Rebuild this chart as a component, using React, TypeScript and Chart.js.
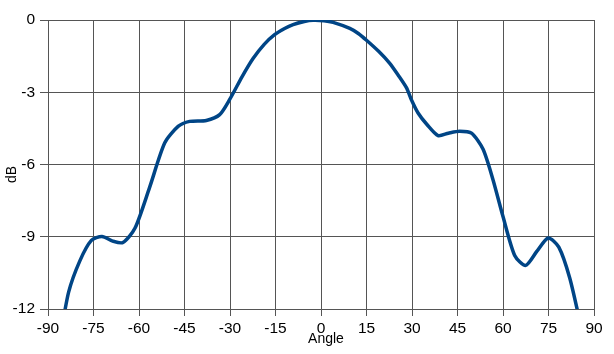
import React, { useEffect, useRef } from "react";
import { Chart, registerables } from "chart.js";

Chart.register(...registerables);

const angles = [
  -86, -83.2, -79.5, -75.7, -72.2, -68.7, -65.3, -61.3, -56.5, -51.5, -47.1, -43.3, -37.8, -33.4,
  -30.1, -26, -22.4, -18.8, -15.3, -12, -9.2, -5.5, -2.6, 1, 4, 9.5, 12.3, 15, 19, 22.6, 25.5, 28.2,
  29.8, 32, 35, 38.6, 42, 45.7, 49.6, 53.4, 56.7, 60, 63.9, 67.5, 71.2, 74.9, 78.4, 82, 85.5,
];
const dbValues = [
  -13.2, -11.3, -10.0, -9.15, -8.99, -9.18, -9.24, -8.64, -6.95, -5.1, -4.42, -4.21, -4.17, -3.93,
  -3.3, -2.35, -1.6, -1.02, -0.61, -0.35, -0.19, -0.06, -0.01, -0.03, -0.1, -0.35, -0.56, -0.84,
  -1.3, -1.79, -2.3, -2.82, -3.31, -3.86, -4.35, -4.8, -4.7, -4.62, -4.7, -5.36, -6.63, -8.16,
  -9.79, -10.19, -9.6, -9.05, -9.43, -10.71, -12.6,
];
const xTitle = "Angle";
const yTitle = "dB";

const titlePlugin = {
  id: "axisTitles",
  afterDraw(chart: any) {
    const { ctx, chartArea } = chart;
    ctx.save();
    ctx.fillStyle = "#000000";
    ctx.font = '14px "Liberation Sans", Arial, sans-serif';
    ctx.textAlign = "center";
    ctx.textBaseline = "middle";
    ctx.fillText(xTitle, (chartArea.left + chartArea.right) / 2 + 5, chartArea.bottom + 30);
    ctx.translate(chartArea.left - 36, (chartArea.top + chartArea.bottom) / 2 + 10);
    ctx.rotate(-Math.PI / 2);
    ctx.fillText(yTitle, 0, 0);
    ctx.restore();
  },
};

export default function App() {
  const ref = useRef<HTMLCanvasElement>(null);
  useEffect(() => {
    const chart = new Chart(ref.current!, {
      type: "line",
      data: {
        datasets: [
          {
            data: angles.map((a, i) => ({ x: a, y: dbValues[i] })),
            borderColor: "#004586",
            borderWidth: 3.5,
            pointRadius: 0,
            tension: 0.25,
            fill: false,
          },
        ],
      },
      options: {
        responsive: false,
        animation: false,
        layout: { padding: { left: 0, top: 20, right: 20, bottom: 0 } },
        plugins: { legend: { display: false }, tooltip: { enabled: false } },
        scales: {
          x: {
            type: "linear",
            min: -90,
            max: 90,
            afterFit: (s: any) => {
              s.height = 45;
            },
            ticks: {
              stepSize: 15,
              color: "#000000",
              padding: 3,
              maxRotation: 0,
              font: { family: '"Liberation Sans", Arial, sans-serif', size: 15.5 },
            },
            grid: { color: "#555555", lineWidth: 1, tickLength: 7 },
            border: { color: "#555555" },
          },
          y: {
            min: -12,
            max: 0,
            afterFit: (s: any) => {
              s.width = 48;
            },
            ticks: {
              stepSize: 3,
              color: "#000000",
              padding: 5,
              font: { family: '"Liberation Sans", Arial, sans-serif', size: 15.5 },
            },
            grid: { color: "#555555", lineWidth: 1, tickLength: 8 },
            border: { color: "#555555" },
          },
        },
      },
      plugins: [titlePlugin],
    });
    return () => chart.destroy();
  }, []);
  return (
    <div style={{ position: "fixed", left: 0, top: 0, width: 614, height: 354, background: "#fff" }}>
      <canvas ref={ref} width={614} height={354} />
    </div>
  );
}
